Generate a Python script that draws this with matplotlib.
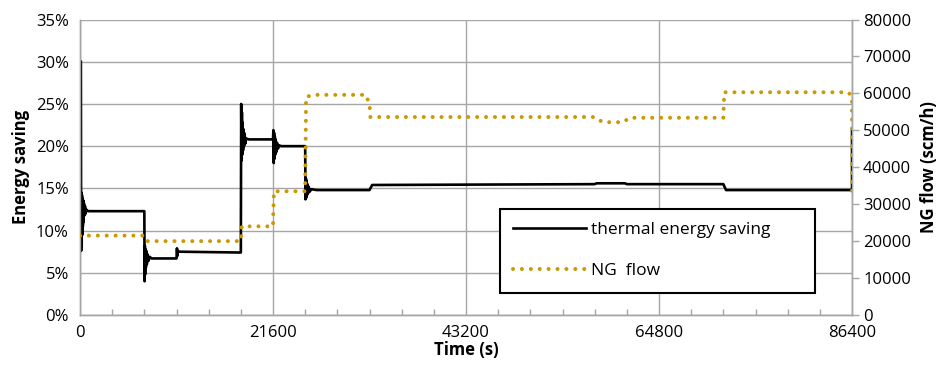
import matplotlib
matplotlib.use("Agg")
import matplotlib.pyplot as plt
from matplotlib.ticker import FixedLocator, PercentFormatter

plt.rcParams["font.family"] = ["Open Sans", "DejaVu Sans"]

# thermal energy saving (%)
saving_t = [100, 130, 160, 190, 220, 250, 280, 320, 360, 400, 450, 500, 560, 620, 700, 900,
            7200, 7230, 7260, 7290, 7330, 7370, 7420, 7480, 7550, 7650, 7800, 8000,
            10800, 10850, 10900, 10950, 11100,
            18000, 18040, 18080, 18120, 18160, 18200, 18250, 18300, 18360, 18420, 18500, 18600, 18900,
            21600, 21640, 21680, 21720, 21760, 21800, 21850, 21900, 21970, 22050, 22150, 22300, 22500,
            25200, 25240, 25280, 25320, 25360, 25400, 25460, 25520, 25600, 25700, 25900, 26500,
            32400, 32700, 57600, 57800, 61000, 61200,
            72000, 72300, 86400, 86400]
saving_v = [30.0, 7.6, 14.5, 8.2, 14.2, 9.5, 13.8, 10.5, 13.6, 11.0, 13.2, 11.8, 12.9, 12.0, 12.5, 12.3,
            12.3, 4.0, 8.2, 4.8, 7.8, 5.6, 7.6, 6.0, 7.2, 6.4, 6.9, 6.7,
            6.7, 7.9, 7.0, 7.6, 7.5,
            7.4, 25.0, 18.3, 24.0, 19.0, 22.8, 19.5, 22.0, 20.0, 21.5, 20.3, 20.9, 20.8,
            20.8, 21.9, 18.0, 21.6, 18.5, 21.2, 19.0, 20.8, 19.3, 20.4, 19.7, 20.1, 20.0,
            20.0, 13.7, 16.2, 13.9, 15.9, 14.2, 15.5, 14.4, 15.2, 14.6, 14.9, 14.8,
            14.8, 15.4, 15.5, 15.6, 15.6, 15.5,
            15.5, 14.8, 14.8, 22.0]

# NG flow (scm/h)
flow_t = [0, 7200, 7500, 18000, 18100, 21600, 21700, 25200, 25300, 26000,
          32000, 32400, 32500, 57600, 58500, 60800, 61500, 72000, 72100,
          86000, 86400, 86400]
flow_v = [21500, 21500, 20000, 20000, 24000, 24000, 33500, 33500, 59000, 59600,
          59600, 57000, 53600, 53600, 52200, 52200, 53400, 53400, 60300,
          60300, 59000, 32000]

x_ticks = [0, 21600, 43200, 64800, 86400]

fig = plt.figure(figsize=(9.49, 3.66), dpi=100)
ax = fig.add_axes([0.0843, 0.1393, 0.8135, 0.8074])
ax2 = ax.twinx()

grid_c = "#a6a6a6"
l1, = ax.plot(saving_t, saving_v, color="black", lw=1.9, label="thermal energy saving", zorder=3)
l2, = ax2.plot(flow_t, flow_v, color="#c99a06", lw=2.9, linestyle=(0, (0.01, 2.2)),
               dash_capstyle="round", label="NG  flow", zorder=4)

ax.set_xlim(0, 86400)
ax.set_ylim(0, 35)
ax2.set_ylim(0, 80000)
ax.set_xticks(x_ticks)
ax.xaxis.set_minor_locator(FixedLocator(range(0, 86401, 3600)))
ax.set_yticks(range(0, 36, 5))
ax.yaxis.set_major_formatter(PercentFormatter(decimals=0))
ax2.set_yticks(range(0, 80001, 10000))

ax.grid(True, which="major", color=grid_c, lw=1.0)
ax.tick_params(axis="x", which="major", length=0, labelsize=12, pad=7)
ax.tick_params(axis="x", which="minor", direction="in", length=4, color=grid_c, width=1.0)
ax.tick_params(axis="y", length=0, labelsize=12, pad=8)
ax2.tick_params(axis="y", length=5, color=grid_c, width=1.0, labelsize=12, pad=3)

for a in (ax, ax2):
    for s in a.spines.values():
        s.set_color(grid_c)
        s.set_linewidth(1.0)
    a.spines["top"].set_visible(False)

ax.set_xlabel("Time (s)", fontsize=12, fontweight="bold", labelpad=0)
ax.set_ylabel("Energy saving", fontsize=12, fontweight="bold", labelpad=4)
ax2.set_ylabel("NG flow (scm/h)", fontsize=12, fontweight="bold", labelpad=6)

leg = ax2.legend(handles=[l1, l2], loc="upper left", bbox_to_anchor=(0.5269, 0.199, 0.332, 0.23),
                 bbox_transform=fig.transFigure, mode="expand", fontsize=12.5, frameon=True,
                 fancybox=False, framealpha=1, edgecolor="black", handlelength=4.2,
                 handletextpad=0.3, labelspacing=1.45, borderpad=0.75, borderaxespad=0)
leg.get_frame().set_linewidth(1.5)

fig.savefig("out.png", dpi=100)
